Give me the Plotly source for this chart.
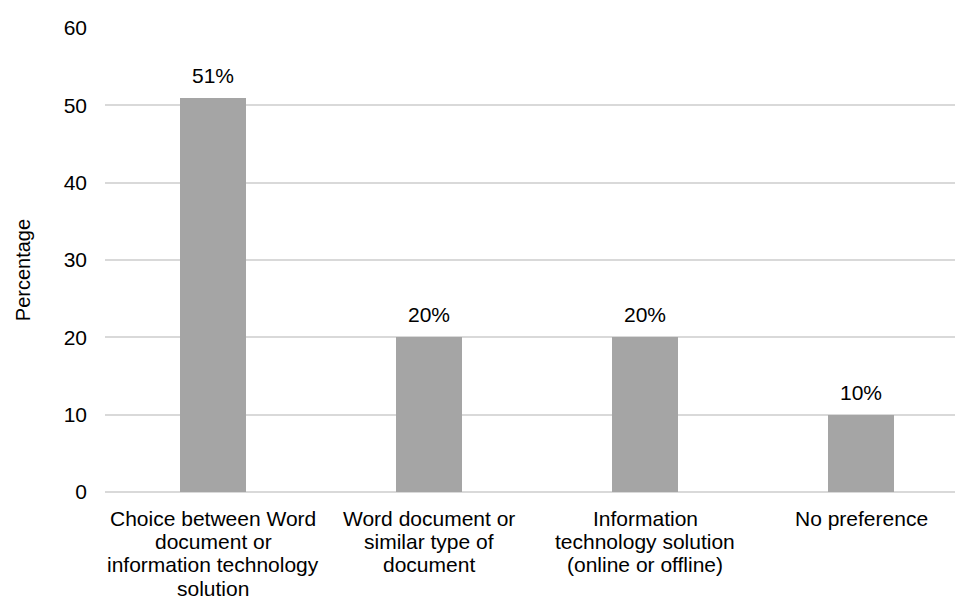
import plotly.graph_objects as go

# Survey answers: preferred format and share of respondents (%)
categories = [
    ["Choice between Word", "document or", "information technology", "solution"],
    ["Word document or", "similar type of", "document"],
    ["Information", "technology solution", "(online or offline)"],
    ["No preference"],
]
percentages = [51, 20, 20, 10]
y_ticks = [0, 10, 20, 30, 40, 50, 60]
y_title = "Percentage"

FONT = "Liberation Sans, Arial, sans-serif"
BAR_COLOR = "#A5A5A5"
GRID_COLOR = "#D9D9D9"
LABEL_SIZE = 21
LINE_STEP = 23.4   # vertical distance between wrapped label lines (px)
FIRST_LINE = 26    # distance of first label line below the axis (px)

x_pos = list(range(len(categories)))

fig = go.Figure(
    go.Bar(
        x=x_pos,
        y=percentages,
        width=0.31,
        marker=dict(color=BAR_COLOR, line=dict(width=0)),
        hoverinfo="skip",
    )
)

# value labels above each bar
for xi, v in zip(x_pos, percentages):
    fig.add_annotation(
        x=xi, y=v, xref="x", yref="y",
        text=f"{v}%", showarrow=False,
        yanchor="bottom", yshift=9,
        font=dict(family=FONT, size=LABEL_SIZE, color="#000000"),
    )

# wrapped category labels under the axis, one line at a time
for xi, lines in zip(x_pos, categories):
    for k, line in enumerate(lines):
        fig.add_annotation(
            x=xi, y=0, xref="x", yref="y",
            text=line, showarrow=False,
            xanchor="center", yanchor="middle",
            yshift=-(FIRST_LINE + k * LINE_STEP),
            font=dict(family=FONT, size=LABEL_SIZE, color="#000000"),
        )

# rotated y-axis title
fig.add_annotation(
    x=0, y=0.478, xref="paper", yref="paper",
    text=y_title, showarrow=False, textangle=-90,
    xanchor="center", yanchor="middle", xshift=-82,
    font=dict(family=FONT, size=20, color="#000000"),
)

fig.update_layout(
    width=955, height=599,
    margin=dict(l=105, r=0, t=28, b=107),
    paper_bgcolor="white", plot_bgcolor="white",
    showlegend=False,
    font=dict(family=FONT, size=LABEL_SIZE, color="#000000"),
    bargap=0,
)

fig.update_xaxes(
    tickmode="array", tickvals=x_pos,
    showticklabels=False,
    range=[-0.5, -0.5 + 850 / 216],
    showgrid=False, zeroline=False, showline=False, ticks="",
)

fig.update_yaxes(
    range=[0, 60], tickmode="array", tickvals=y_ticks,
    showgrid=True, gridcolor=GRID_COLOR, gridwidth=2,
    zeroline=True, zerolinecolor=GRID_COLOR, zerolinewidth=2,
    showline=False, ticks="",
    ticklabelstandoff=17,
    tickfont=dict(family=FONT, size=LABEL_SIZE, color="#000000"),
)

fig.write_html("out.html")
